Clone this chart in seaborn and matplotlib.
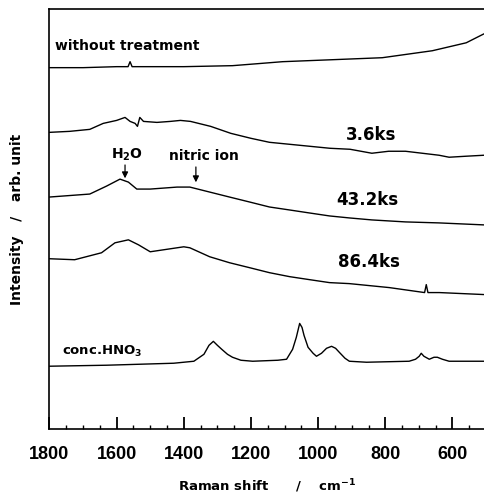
import numpy as np
import pandas as pd
import seaborn as sns
import matplotlib.pyplot as plt

# -----------------------------
# Data (Raman shift in cm-1, intensity in arb. units)
# -----------------------------
untreated_shift = [1800, 1700, 1600, 1566, 1560, 1554, 1400, 1255, 1180, 1106, 957, 809, 660, 559, 512, 506]
untreated_int = [363, 363, 364, 364, 369, 364, 364, 365, 367, 369, 371, 373, 380, 388, 396, 397]

ks36_shift = [1800, 1740, 1680, 1640, 1600, 1575, 1560, 1545, 1538, 1531, 1520, 1480, 1440, 1410,
              1380, 1320, 1260, 1200, 1145, 1085, 1025, 965, 905, 840, 790, 740, 690, 640, 610, 560, 506]
ks36_int = [298, 299, 301, 307, 310, 313, 309, 307, 304, 313, 309, 308, 309, 310,
            309, 304, 297, 292, 288, 286, 284, 282, 281, 277, 279, 279, 277, 275, 273, 274, 275]

ks432_shift = [1800, 1680, 1630, 1590, 1565, 1540, 1500, 1460, 1420, 1382, 1323, 1264, 1204,
               1145, 1085, 1026, 966, 907, 840, 740, 640, 506]
ks432_int = [233, 236, 244, 251, 248, 241, 241, 242, 243, 243, 238, 233, 228,
             223, 220, 217, 214, 212, 210, 208, 207, 205]

ks864_shift = [1800, 1725, 1645, 1605, 1565, 1535, 1500, 1460, 1400, 1382, 1323, 1264, 1204,
               1145, 1085, 1026, 966, 907, 788, 683, 678, 673, 639, 506]
ks864_int = [171, 170, 177, 187, 190, 185, 178, 180, 183, 182, 173, 167, 162,
             157, 153, 150, 147, 146, 142, 137, 145, 137, 137, 135]

hno3_shift = [1800, 1630, 1430, 1370, 1340, 1325, 1312, 1300, 1287, 1270, 1255, 1230, 1195, 1120,
              1094, 1076, 1065, 1055, 1048, 1042, 1030, 1015, 1005, 990, 975, 960, 948, 937, 920,
              907, 856, 729, 710, 699, 693, 685, 669, 655, 645, 630, 610, 506]
hno3_int = [63, 64, 66, 68, 75, 84, 88, 84, 80, 75, 72, 69, 68, 69,
            70, 80, 92, 106, 102, 94, 82, 76, 73, 76, 81, 83, 81, 77, 71,
            68, 67, 68, 70, 73, 76, 73, 70, 72, 72, 70, 68, 68]

spectra = {
    "without treatment": (untreated_shift, untreated_int),
    "3.6ks": (ks36_shift, ks36_int),
    "43.2ks": (ks432_shift, ks432_int),
    "86.4ks": (ks864_shift, ks864_int),
    "conc.HNO3": (hno3_shift, hno3_int),
}

frames = []
for name, (xs, ys) in spectra.items():
    frames.append(pd.DataFrame({"shift": xs, "intensity": ys, "sample": name}))
df = pd.concat(frames, ignore_index=True)

# -----------------------------
# Plot
# -----------------------------
sns.set_style("ticks")
plt.rcParams["font.family"] = ["DejaVu Sans"]
plt.rcParams["font.weight"] = "bold"
plt.rcParams["mathtext.default"] = "bf"
for key in ["text.color", "axes.labelcolor", "xtick.color", "ytick.color", "axes.edgecolor"]:
    plt.rcParams[key] = "black"

fig = plt.figure(figsize=(4.85, 4.97), dpi=100)
ax = fig.add_axes([0.102, 0.137, 0.896, 0.845])

sns.lineplot(data=df, x="shift", y="intensity", units="sample", estimator=None,
             sort=False, color="black", linewidth=1.0, ax=ax)

ax.set_xlim(1800, 506)
ax.set_ylim(0, 422)
ax.set_xticks([1800, 1600, 1400, 1200, 1000, 800, 600])
ax.set_xticks(np.arange(550, 1800, 50), minor=True)
ax.set_yticks([])
ax.tick_params(axis="x", which="major", direction="in", length=8.5, width=1.3,
               labelsize=13, pad=12.5)
ax.tick_params(axis="x", which="minor", direction="in", length=3, width=1.0)
for lab in ax.get_xticklabels():
    lab.set_fontfamily("Liberation Sans")
    lab.set_fontweight("bold")
ax.spines["right"].set_visible(False)
for sp in ax.spines.values():
    sp.set_linewidth(1.2)

ax.set_xlabel("Raman shift      /    cm$^{-1}$", fontsize=9.5, fontweight="bold", labelpad=10)
ax.set_ylabel("Intensity   /   arb. unit", fontsize=10, fontweight="bold", labelpad=18)

# sample labels
ax.text(1784, 385, "without treatment", fontsize=10, fontweight="bold", va="center", ha="left")
ax.text(841, 295, "3.6ks", fontsize=12, fontweight="bold", va="center", ha="center")
ax.text(853, 230, "43.2ks", fontsize=12, fontweight="bold", va="center", ha="center")
ax.text(850, 168, "86.4ks", fontsize=12, fontweight="bold", va="center", ha="center")
ax.text(1763, 78, "conc.HNO$_3$", fontsize=9.5, fontweight="bold", va="center", ha="left")

# peak markers
ax.text(1570, 275, "H$_2$O", fontsize=10, fontweight="bold", va="center", ha="center")
ax.annotate("", xy=(1575, 249), xytext=(1575, 268),
            arrowprops=dict(arrowstyle="-|>", color="black", lw=0.9, mutation_scale=9))
ax.text(1340, 274, "nitric ion", fontsize=10, fontweight="bold", va="center", ha="center")
ax.annotate("", xy=(1364, 245), xytext=(1364, 266),
            arrowprops=dict(arrowstyle="-|>", color="black", lw=0.9, mutation_scale=9))

fig.savefig("out.png", dpi=100, facecolor="white")
